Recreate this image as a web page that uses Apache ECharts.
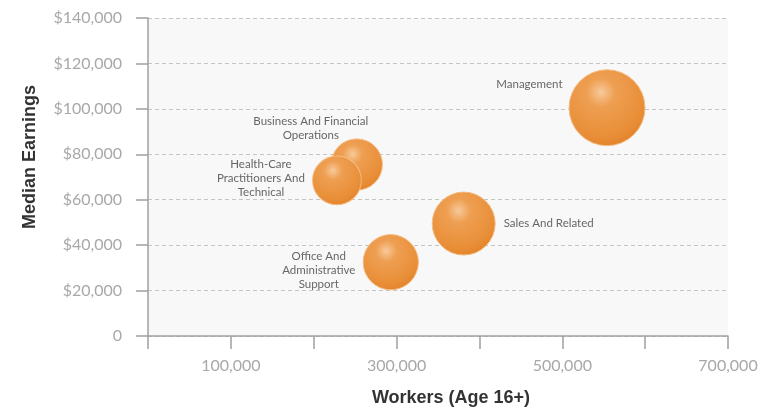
<!DOCTYPE html>
<html>
<head>
<meta charset="utf-8">
<script src="https://cdn.jsdelivr.net/npm/echarts@6/dist/echarts.min.js"></script>
<style>
html,body{margin:0;padding:0;background:#fff;}
#chart{width:763px;height:409px;}
</style>
</head>
<body>
<div id="chart"></div>
<script>
var occupations = ['Management', 'Business And Financial\nOperations', 'Health-Care\nPractitioners And\nTechnical', 'Sales And Related', 'Office And\nAdministrative\nSupport'];
var workers = [554000, 252000, 228000, 381000, 293000];
var earnings = [100500, 75500, 68500, 49500, 32500];
var yTickLabels = ['0', '$20,000', '$40,000', '$60,000', '$80,000', '$100,000', '$120,000', '$140,000'];
var xTickLabels = ['', '100,000', '', '300,000', '', '500,000', '', '700,000'];

var labelLayouts = [
  {position: 'left', distance: 6, offset: [0, -23], align: 'right'},
  {position: 'inside', offset: [-46, -36], align: 'center'},
  {position: 'inside', offset: [-76, -2], align: 'center'},
  {position: 'right', distance: 8, offset: [0, 0], align: 'left'},
  {position: 'inside', offset: [-72, 8], align: 'center'}
];

var bubbleColor = {
  type: 'radial', x: 0.42, y: 0.3, r: 0.75,
  colorStops: [
    {offset: 0, color: '#f8c99a'},
    {offset: 0.25, color: '#ee9f52'},
    {offset: 0.8, color: '#e88d36'},
    {offset: 1, color: '#df7f26'}
  ]
};

var data = occupations.map(function (n, i) {
  var l = labelLayouts[i];
  return {
    name: n,
    value: [workers[i], earnings[i]],
    label: {
      position: l.position,
      distance: l.distance || 5,
      offset: l.offset,
      align: l.align
    }
  };
});

var chart = echarts.init(document.getElementById('chart'));
chart.setOption({
  backgroundColor: '#ffffff',
  animation: false,
  grid: {left: 148, right: 35, top: 18, bottom: 73, show: true, backgroundColor: '#f8f8f8', borderWidth: 0},
  xAxis: {
    type: 'value', min: 0, max: 700000, interval: 100000,
    axisLine: {show: true, lineStyle: {color: '#a0a0a0', width: 1.5}},
    axisTick: {show: true, length: 13, lineStyle: {color: '#a0a0a0', width: 1.5}},
    splitLine: {show: false},
    axisLabel: {
      margin: 22, color: '#a8a8a8', fontFamily: 'Lato', fontSize: 16,
      formatter: function (v) { return xTickLabels[Math.round(v / 100000)]; }
    }
  },
  yAxis: {
    type: 'value', min: 0, max: 140000, interval: 20000,
    axisLine: {show: true, lineStyle: {color: '#a0a0a0', width: 1.5}},
    axisTick: {show: true, length: 12, lineStyle: {color: '#a0a0a0', width: 1.5}},
    splitLine: {show: true, lineStyle: {color: '#c4c4c4', type: [4, 3], width: 1}},
    axisLabel: {
      margin: 26, color: '#a8a8a8', fontFamily: 'Lato', fontSize: 16,
      formatter: function (v) { return yTickLabels[Math.round(v / 20000)]; }
    }
  },
  graphic: [
    {type: 'text', x: 30, y: 157, rotation: Math.PI / 2,
      style: {text: 'Median Earnings', fill: '#333', font: 'bold 18px "Liberation Sans", Arial', textAlign: 'center', textVerticalAlign: 'middle'}},
    {type: 'text', x: 451, y: 398,
      style: {text: 'Workers (Age 16+)', fill: '#333', font: 'bold 18px "Liberation Sans", Arial', textAlign: 'center', textVerticalAlign: 'middle'}}
  ],
  series: [{
    type: 'scatter',
    data: data,
    symbolSize: function (val) { return Math.sqrt(val[0]) * 0.102; },
    itemStyle: {color: bubbleColor, borderColor: '#f5bb82', borderWidth: 1, opacity: 1},
    label: {
      show: true,
      formatter: '{b}',
      color: '#666',
      fontFamily: 'Lato',
      fontSize: 11.5,
      lineHeight: 14
    },
    emphasis: {disabled: true}
  }]
});
</script>
</body>
</html>
